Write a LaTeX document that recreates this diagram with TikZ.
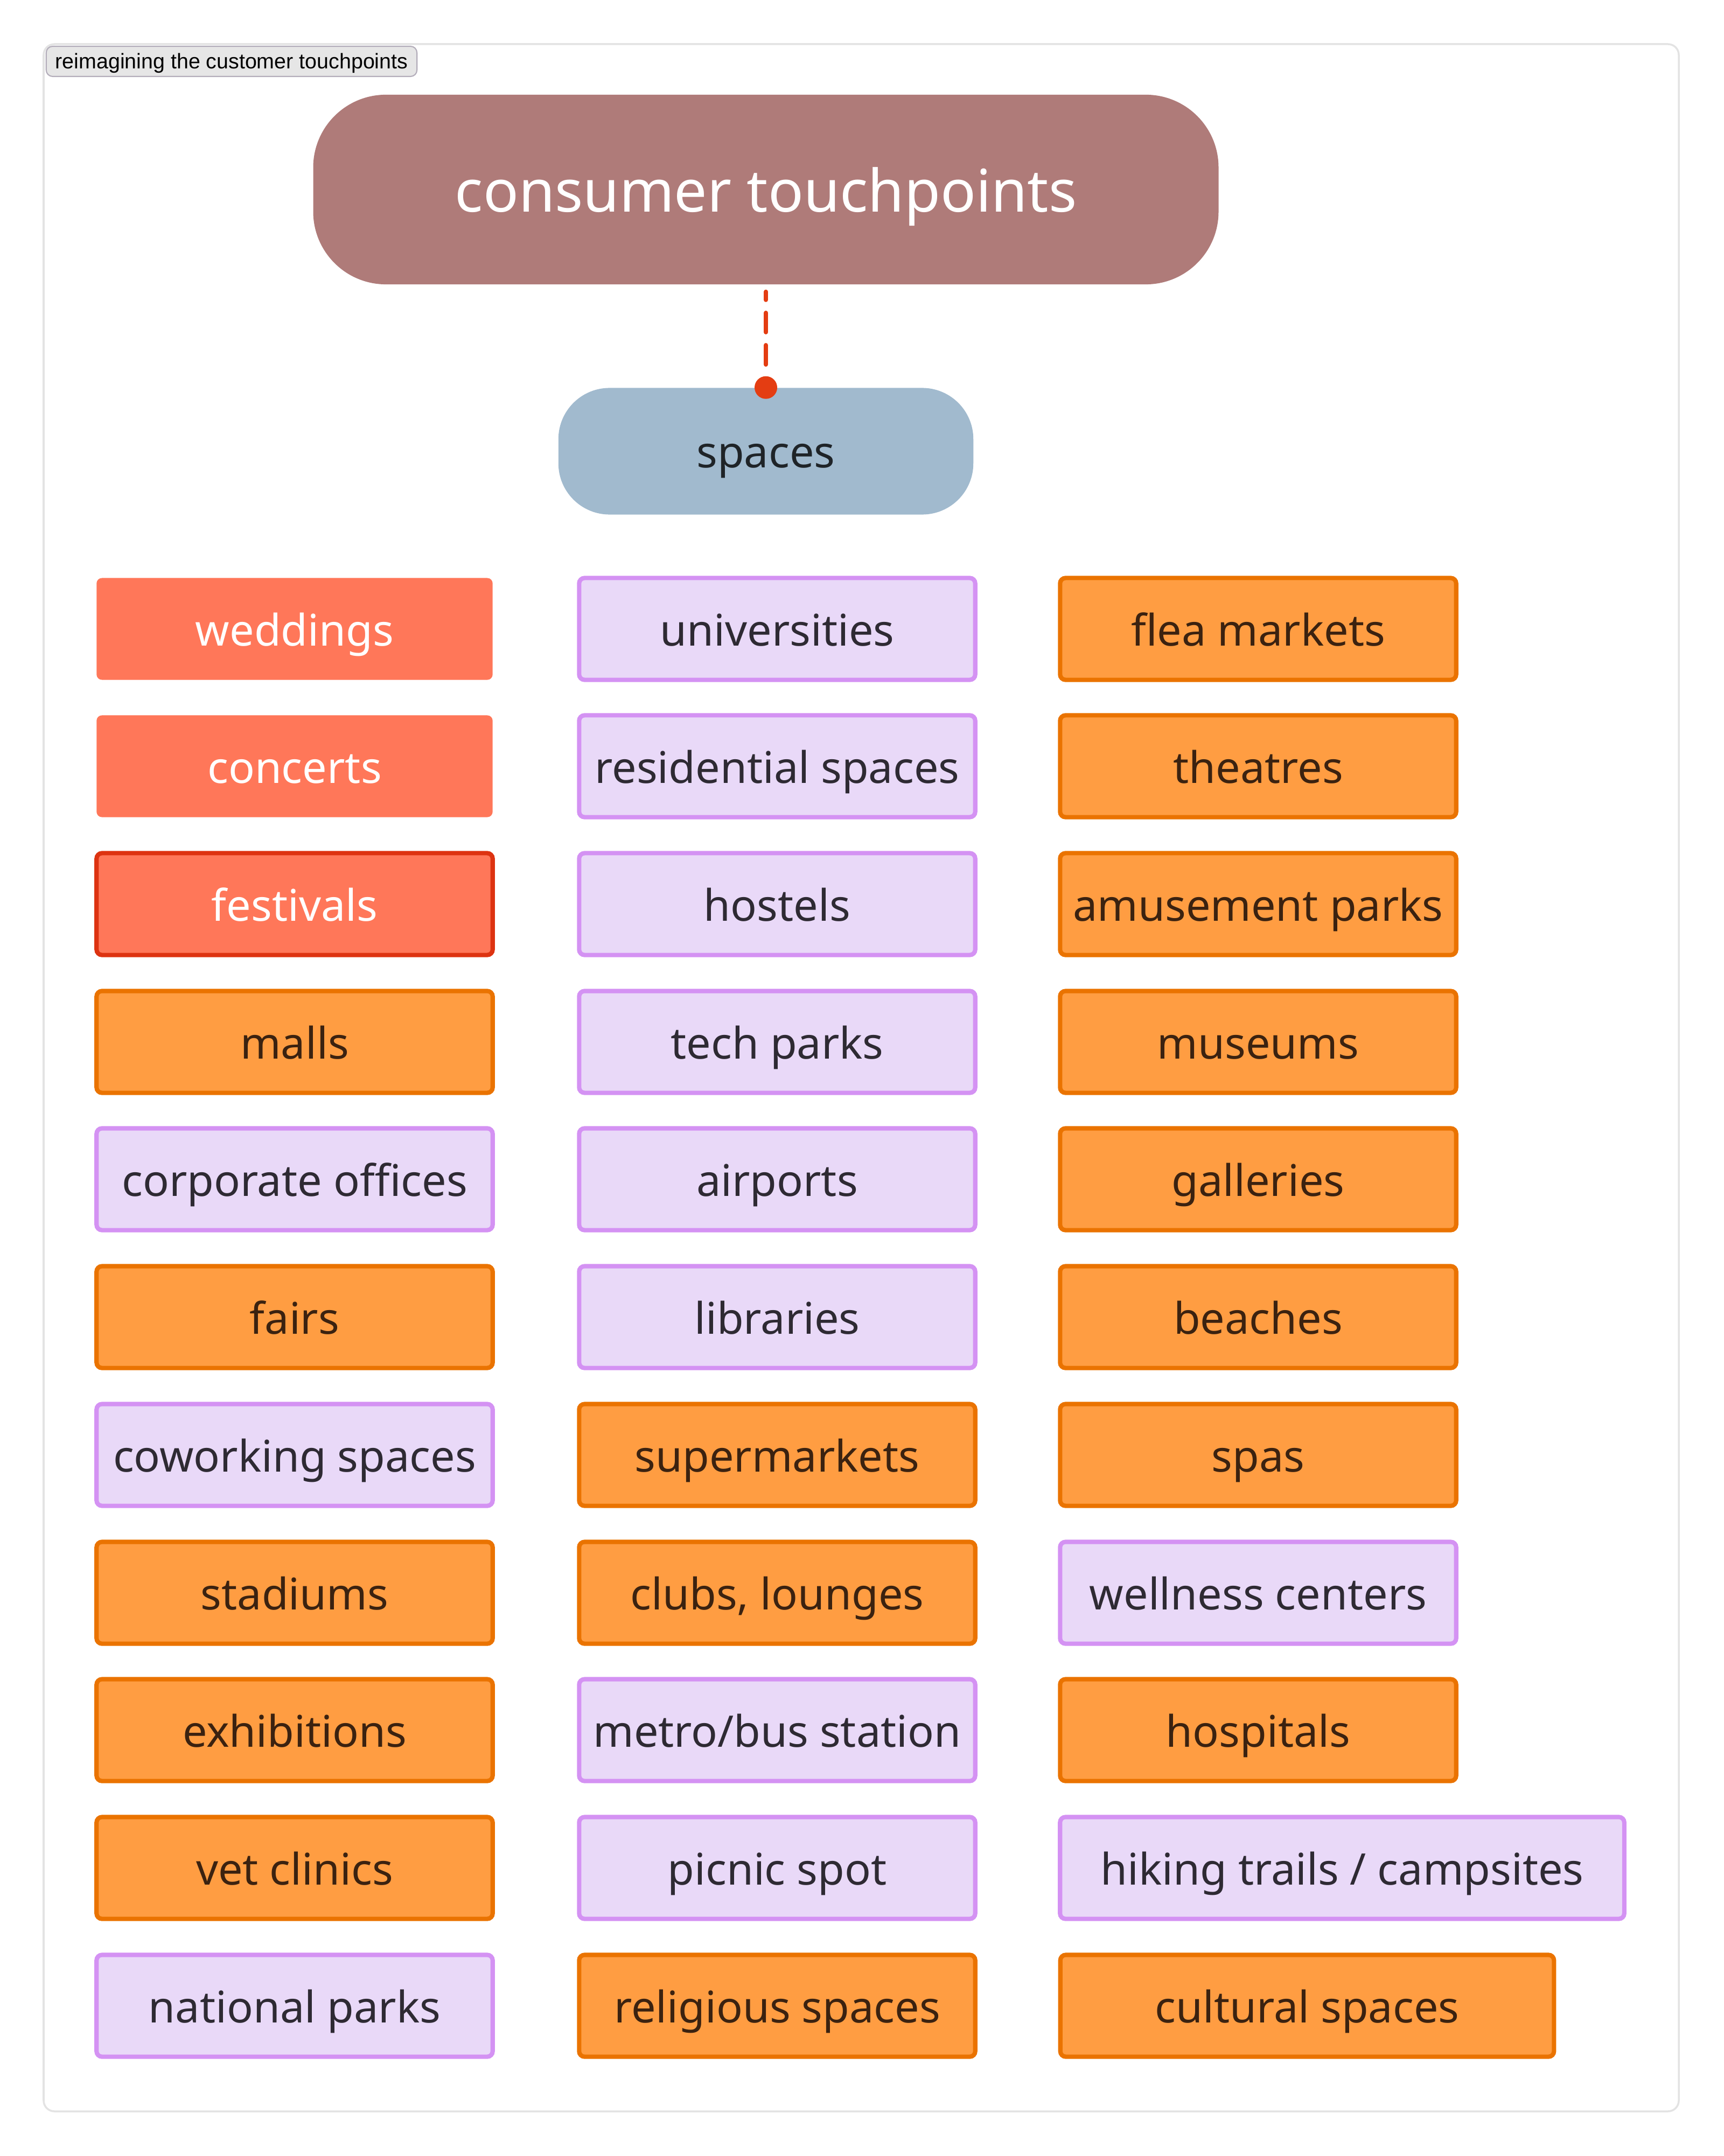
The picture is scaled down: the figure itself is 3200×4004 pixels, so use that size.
\documentclass[tikz,border=0pt]{standalone}
\usepackage{fontspec}
\usepackage{tikz}
\newfontfamily\boxfont{Noto Sans}
\newfontfamily\tabfont{Liberation Sans}

\definecolor{coralFill}{HTML}{FF7759}
\definecolor{festLine}{HTML}{DD3311}
\definecolor{orangeFill}{HTML}{FF9D42}
\definecolor{orangeLine}{HTML}{EA7300}
\definecolor{orangeText}{HTML}{3B2210}
\definecolor{lilacFill}{HTML}{E9D9F8}
\definecolor{lilacLine}{HTML}{D492F3}
\definecolor{lilacText}{HTML}{2E2A33}
\definecolor{rootFill}{HTML}{AF7B79}
\definecolor{spaceFill}{HTML}{A1BACE}
\definecolor{spaceText}{HTML}{1F2428}
\definecolor{linkRed}{HTML}{E43D12}
\definecolor{frameGray}{HTML}{E3E3E3}
\definecolor{tabFill}{HTML}{E6E6E6}
\definecolor{tabLine}{HTML}{B3ADBA}

\begin{document}
\begin{tikzpicture}
[x=0.01cm,y=-0.01cm,%
  cell/.style={shape=rectangle,rounded corners=0.1cm,minimum width=7.35cm,
    minimum height=1.89cm,inner sep=0pt,text height=0.63cm,text depth=0cm,
    font=\boxfont\fontsize{23}{28}\selectfont},%
  coralCell/.style={cell,fill=coralFill,text=white},%
  festCell/.style={coralCell,draw=festLine,line width=2.3pt},%
  orangeCell/.style={cell,fill=orangeFill,draw=orangeLine,line width=2.3pt,text=orangeText},%
  lilacCell/.style={cell,fill=lilacFill,draw=lilacLine,line width=2.3pt,text=lilacText},%
  rootBox/.style={shape=rectangle,rounded corners=1.35cm,fill=rootFill,text=white,
    minimum width=16.8cm,minimum height=3.52cm,inner sep=0pt,text height=0.82cm,text depth=0cm,
    font=\boxfont\fontsize{31}{36}\selectfont},%
  spaceBox/.style={shape=rectangle,rounded corners=0.95cm,fill=spaceFill,text=spaceText,
    minimum width=7.7cm,minimum height=2.35cm,inner sep=0pt,text height=0.61cm,text depth=0cm,
    font=\boxfont\fontsize{23}{28}\selectfont},%
  redDot/.style={shape=circle,fill=linkRed,minimum size=0.42cm,inner sep=0pt},%
  dashLink/.style={color=linkRed,line width=0.08cm,line cap=round,dash pattern=on 0.36cm off 0.24cm},%
  tabBox/.style={shape=rectangle,rounded corners=0.12cm,fill=tabFill,draw=tabLine,line width=0.6pt,
    minimum width=6.88cm,minimum height=0.56cm,inner sep=0pt,text height=0.28cm,text depth=0cm,
    font=\tabfont\fontsize{11.2}{13}\selectfont}]
\useasboundingbox (0,0) rectangle (3200,4004);
%% outer frame and its tab
\draw[frameGray,line width=1pt,rounded corners=0.2cm] (81,82) rectangle (3117,3921);
\node (tab) at (430,114) [tabBox] {reimagining the customer touchpoints};
%% top of the tree
\node (root) at (1422,352) [rootBox] {consumer touchpoints};
\node (spaces) at (1422,838) [spaceBox] {spaces};
\node (dot) at (spaces.north) [redDot] {};
\draw[dashLink] ([yshift=0.21cm]dot.north) -- ([yshift=-0.13cm]root.south);
%% the grid of spaces
\foreach \nodename/\x/\y/\kind/\txt in {
  %% first column
  weddings/547/1168/coralCell/weddings, concerts/547/1423/coralCell/concerts,
  festivals/547/1679/festCell/festivals, malls/547/1935/orangeCell/malls,
  offices/547/2190/lilacCell/corporate offices, fairs/547/2446/orangeCell/fairs,
  coworking/547/2702/lilacCell/coworking spaces, stadiums/547/2958/orangeCell/stadiums,
  exhibitions/547/3213/orangeCell/exhibitions, vet/547/3469/orangeCell/vet clinics,
  nationalparks/547/3725/lilacCell/national parks,
  %% second column
  universities/1443/1168/lilacCell/universities, residential/1443/1423/lilacCell/residential spaces,
  hostels/1443/1679/lilacCell/hostels, techparks/1443/1935/lilacCell/tech parks,
  airports/1443/2190/lilacCell/airports, libraries/1443/2446/lilacCell/libraries,
  supermarkets/1443/2702/orangeCell/supermarkets, clubs/1443/2958/orangeCell/{clubs, lounges},
  metro/1443/3213/lilacCell/{metro/bus station}, picnic/1443/3469/lilacCell/picnic spot,
  religious/1443/3725/orangeCell/religious spaces,
  %% third column
  flea/2336/1168/orangeCell/flea markets, theatres/2336/1423/orangeCell/theatres,
  amusement/2336/1679/orangeCell/amusement parks, museums/2336/1935/orangeCell/museums,
  galleries/2336/2190/orangeCell/galleries, beaches/2336/2446/orangeCell/beaches,
  spas/2336/2702/orangeCell/spas, wellness/2336/2958/lilacCell/wellness centers,
  hospitals/2336/3213/orangeCell/hospitals}
{
  \node (\nodename) at (\x,\y) [\kind] {\txt};
}
\node (hiking) at (2492,3469) [lilacCell,minimum width=10.47cm] {hiking trails / campsites};
\node (cultural) at (2427,3725) [orangeCell,minimum width=9.16cm] {cultural spaces};
\end{tikzpicture}
\end{document}
